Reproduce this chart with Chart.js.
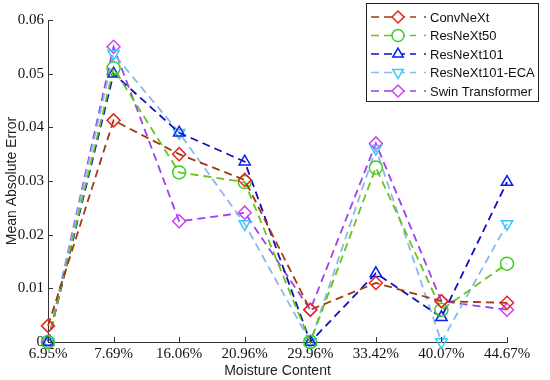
<!DOCTYPE html>
<html>
<head>
<meta charset="utf-8">
<script src="https://cdn.jsdelivr.net/npm/chart.js@4.4.1/dist/chart.umd.min.js"></script>
<style>
  html, body { margin: 0; padding: 0; background: #fff; }
  #wrap { width: 550px; height: 380px; position: relative; }
</style>
</head>
<body>
<div id="wrap"><canvas id="maeChart" width="550" height="380"></canvas></div>
<script>
// data
const categories = ['6.95%', '7.69%', '16.06%', '20.96%', '29.96%', '33.42%', '40.07%', '44.67%'];
const convnext   = [0.003, 0.0413, 0.035, 0.0302, 0.006, 0.011, 0.0076, 0.0073];
const resnext50  = [0, 0.051, 0.0316, 0.0298, 0, 0.0325, 0.006, 0.0146];
const resnext101 = [0, 0.050, 0.039, 0.0336, 0, 0.0128, 0.0046, 0.0298];
const resnextEca = [0, 0.0537, 0.039, 0.022, 0, 0.036, 0, 0.022];
const swin       = [0, 0.055, 0.0225, 0.0241, 0.006, 0.037, 0.0076, 0.006];
const yTicks     = [0, 0.01, 0.02, 0.03, 0.04, 0.05, 0.06];

// series look: line colour, marker colour, marker shape
const series = [
  { label: 'ConvNeXt',         data: convnext,   line: '#a03a10', mark: '#e8251c', style: 'rectRot',  rot: 0 },
  { label: 'ResNeXt50',        data: resnext50,  line: '#66c41a', mark: '#3ccc2a', style: 'circle',   rot: 0 },
  { label: 'ResNeXt101',       data: resnext101, line: '#1010c0', mark: '#0a1ef0', style: 'triangle', rot: 0 },
  { label: 'ResNeXt101-ECA',   data: resnextEca, line: '#8ab8ec', mark: '#38c8f8', style: 'triangle', rot: 180 },
  { label: 'Swin Transformer', data: swin,       line: '#9a40f0', mark: '#d040f0', style: 'rectRot',  rot: 0 }
];

const AXIS = '#333';
const SERIF = '"Liberation Serif", "DejaVu Serif", serif';
const SANS = '"Liberation Sans", Arial, sans-serif';

// ticks pointing into the plot, like the original
const inwardTicks = {
  id: 'inwardTicks',
  afterDatasetsDraw(chart) {
    const { ctx, chartArea, scales } = chart;
    ctx.save();
    ctx.strokeStyle = AXIS;
    ctx.lineWidth = 1;
    scales.y.ticks.forEach(t => {
      const y = Math.round(scales.y.getPixelForValue(t.value)) + 0.5;
      ctx.beginPath();
      ctx.moveTo(chartArea.left, y);
      ctx.lineTo(chartArea.left + 5, y);
      ctx.stroke();
    });
    categories.forEach((c, i) => {
      const x = Math.round(scales.x.getPixelForValue(i)) + 0.5;
      ctx.beginPath();
      ctx.moveTo(x, chartArea.bottom);
      ctx.lineTo(x, chartArea.bottom - 5);
      ctx.stroke();
    });
    ctx.restore();
  }
};

// boxed legend in the top right corner
const boxLegend = {
  id: 'boxLegend',
  afterDraw(chart) {
    const ctx = chart.ctx;
    const bx = 366, by = 3, bw = 172, bh = 98;
    ctx.save();
    ctx.fillStyle = '#fff';
    ctx.fillRect(bx, by, bw, bh);
    ctx.strokeStyle = '#222';
    ctx.lineWidth = 1;
    ctx.strokeRect(bx + 0.5, by + 0.5, bw, bh);
    series.forEach((s, i) => {
      const y = 17 + i * 18.5;
      ctx.strokeStyle = s.line;
      ctx.lineWidth = 1.5;
      ctx.setLineDash([8, 5]);
      ctx.beginPath();
      ctx.moveTo(371, y); ctx.lineTo(416, y);
      ctx.stroke();
      ctx.setLineDash([]);
      ctx.beginPath();
      ctx.moveTo(424, y); ctx.lineTo(426, y);
      ctx.stroke();
      ctx.strokeStyle = s.mark;
      ctx.fillStyle = '#fff';
      ctx.lineWidth = 1.5;
      Chart.helpers.drawPoint(ctx, { pointStyle: s.style, rotation: s.rot, radius: 6, borderWidth: 1.5 }, 398, y);
      ctx.fillStyle = '#111';
      ctx.font = '13px ' + SANS;
      ctx.textBaseline = 'middle';
      ctx.fillText(s.label, 430, y + 1);
    });
    ctx.restore();
  }
};

new Chart(document.getElementById('maeChart'), {
  type: 'line',
  data: {
    labels: categories,
    datasets: series.map(s => ({
      label: s.label,
      data: s.data,
      borderColor: s.line,
      borderWidth: 1.8,
      borderDash: [8, 5],
      pointStyle: s.style,
      pointRotation: s.rot,
      pointRadius: 6.5,
      pointBorderWidth: 1.5,
      pointBorderColor: s.mark,
      pointBackgroundColor: 'rgba(255,255,255,0)',
      tension: 0,
      clip: false
    }))
  },
  options: {
    responsive: false,
    animation: false,
    layout: { padding: { top: 20, right: 43, left: 0, bottom: 0 } },
    plugins: { legend: { display: false }, tooltip: { enabled: false } },
    scales: {
      x: {
        type: 'category',
        offset: false,
        grid: { display: false, drawTicks: false },
        border: { display: true, color: AXIS, width: 1 },
        ticks: { color: '#111', font: { family: SERIF, size: 15 }, padding: 3, maxRotation: 0, autoSkip: false },
        title: { display: true, text: 'Moisture Content', color: '#222', font: { family: SANS, size: 14 }, padding: { top: 1, bottom: 0 } },
        afterFit(scale) { scale.height = 38; }
      },
      y: {
        min: 0,
        max: 0.06,
        grid: { display: false, drawTicks: false },
        border: { display: true, color: AXIS, width: 1 },
        afterBuildTicks(scale) { scale.ticks = yTicks.map(v => ({ value: v })); },
        ticks: {
          color: '#111',
          font: { family: SERIF, size: 15 },
          padding: 4,
          callback: v => (v === 0 ? '0' : v.toFixed(2))
        },
        title: { display: true, text: 'Mean Absolute Error', color: '#222', font: { family: SANS, size: 14 }, padding: { top: 4, bottom: 0 } },
        afterFit(scale) { scale.width = 48; }
      }
    }
  },
  plugins: [inwardTicks, boxLegend]
});
</script>
</body>
</html>
